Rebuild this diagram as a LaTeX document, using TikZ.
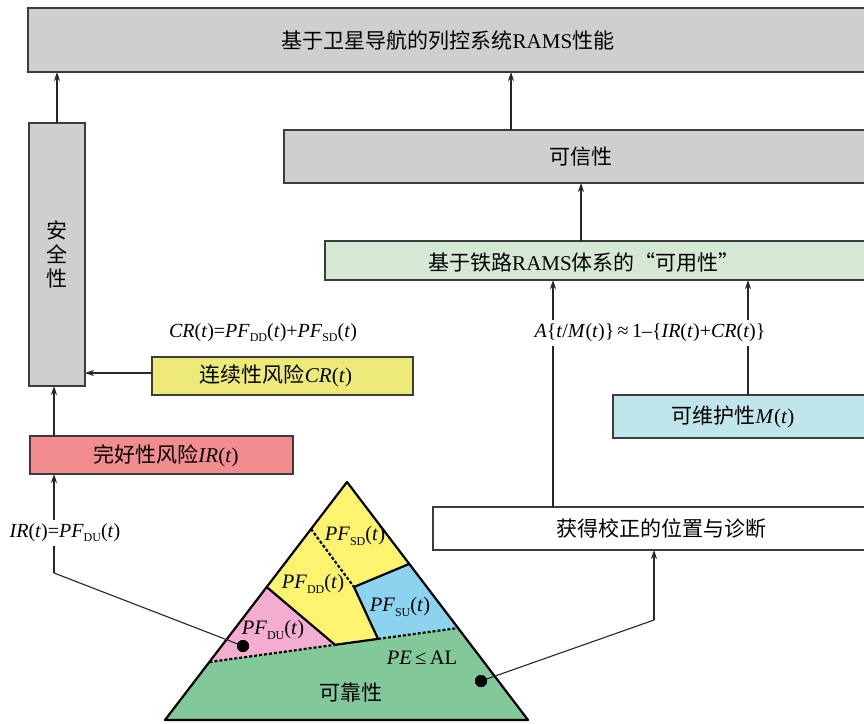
\documentclass[tikz,border=0pt]{standalone}
\usepackage{fontspec}
\setmainfont{Liberation Serif}
\newfontfamily\cjk{Noto Sans CJK SC}
\usetikzlibrary{arrows.meta}
\definecolor{boxgray}{HTML}{CFCFD1}
\definecolor{boxyel}{HTML}{EEEA78}
\definecolor{boxpink}{HTML}{F28C8F}
\definecolor{boxgreen}{HTML}{D5E8D3}
\definecolor{boxblue}{HTML}{C0E5EA}
\definecolor{tyel}{HTML}{FCF46E}
\definecolor{tpink}{HTML}{F2ADD0}
\definecolor{tblue}{HTML}{8CD3F0}
\definecolor{tgreen}{HTML}{82C899}
\definecolor{bordc}{HTML}{3C3C3C}
\newcommand{\sbs}[1]{\raisebox{-0.45ex}{\fontsize{12}{12}\selectfont #1}}
\newcommand{\pfx}[1]{\textit{PF}\sbs{#1}(\textit{t})}
\newcommand{\myt}{\textit{t}}
\tikzset{
  rbox/.style={draw=bordc, line width=1.3pt, inner sep=0pt, outer sep=0pt, anchor=north west},
  txt/.style={inner sep=2pt, font=\fontsize{21}{24}\selectfont},
  ptxt/.style={inner sep=2pt, font=\fontsize{20.5}{24}\selectfont},
  ftxt/.style={fill=white, inner sep=4pt, font=\fontsize{20}{24}\selectfont},
  arr/.style={draw=black!85, line width=1.1pt, -{Stealth[length=9pt,width=6pt]}},
  ln/.style={draw=black!85, line width=1.1pt},
  tri/.style={draw=black, line width=2.2pt, line join=round},
  dot/.style={dash pattern=on 3pt off 2pt, line width=2.2pt},
  bdot/.style={circle, fill=black, inner sep=0pt, minimum size=12pt}
}
\begin{document}
\begin{tikzpicture}[x=1pt,y=-1pt]
\useasboundingbox (0,0) rectangle (864,723);
% boxes
\node[rbox, fill=boxgray, minimum width=850pt, minimum height=64pt] (top) at (28,8) {};
\node[rbox, fill=boxgray, minimum width=600pt, minimum height=53pt] (kexin) at (284,130) {};
\node[rbox, fill=boxgray, minimum width=56pt, minimum height=263pt] (anquan) at (29,123) {};
\node[rbox, fill=boxgreen, minimum width=560pt, minimum height=39pt] (kyx) at (325,241) {};
\node[rbox, fill=boxblue, minimum width=260pt, minimum height=43pt] (weihu) at (613,395) {};
\node[rbox, fill=white, minimum width=440pt, minimum height=43pt] (huode) at (433,507) {};
\node[rbox, fill=boxyel, minimum width=261pt, minimum height=38pt] (lianxu) at (152,357) {};
\node[rbox, fill=boxpink, minimum width=263pt, minimum height=38pt] (wanhao) at (30,436) {};
% box texts
\node[txt] (ttop) at (448,40) {{\cjk 基于卫星导航的列控系统}RAMS{\cjk 性能}};
\node[txt] (tkexin) at (581,157) {{\cjk 可信性}};
\node[txt, align=center] (tanquan) at (57,254) {{\cjk 安}\\[0pt]{\cjk 全}\\[0pt]{\cjk 性}};
\node[txt] (tkyx) at (584,262) {{\cjk 基于铁路}RAMS{\cjk 体系的“可用性”}};
\node[txt] (tweihu) at (733,417) {{\cjk 可维护性}\textit{M}(\myt)};
\node[txt] (thuode) at (661,528) {{\cjk 获得校正的位置与诊断}};
\node[txt] (tlianxu) at (276,376) {{\cjk 连续性风险}\textit{CR}(\myt)};
\node[txt] (twanhao) at (166,456) {{\cjk 完好性风险}\textit{IR}(\myt)};
% triangle
\coordinate (A) at (347,482);
\coordinate (BL) at (165,720);
\coordinate (BR) at (528,720);
\coordinate (L1) at (209.5,662);
\coordinate (R1) at (458,628);
\coordinate (L2) at (266.7,587);
\coordinate (M1) at (335,644.8);
\coordinate (M2) at (378,638.9);
\coordinate (M3) at (354,587);
\coordinate (R2) at (409,564);
\coordinate (D1) at (311,529);
\fill[tgreen] (L1) -- (R1) -- (BR) -- (BL) -- cycle;
\fill[tpink] (L2) -- (M1) -- (L1) -- cycle;
\fill[tyel] (A) -- (L2) -- (M1) -- (M2) -- (M3) -- (R2) -- cycle;
\fill[tblue] (M3) -- (R2) -- (R1) -- (M2) -- cycle;
\draw[tri] (L2) -- (M1) -- (M2) -- (M3) -- (R2);
\draw[dot] (L1) -- (M1);
\draw[dot] (M2) -- (R1);
\draw[dot] (D1) -- (M3);
\draw[tri] (A) -- (BL) -- (BR) -- cycle;
\node[ptxt] (pfsd) at (355,536) {\pfx{SD}};
\node[ptxt] (pfdd) at (313,584) {\pfx{DD}};
\node[ptxt] (pfsu) at (400,607) {\pfx{SU}};
\node[ptxt] (pfdu) at (273,630) {\pfx{DU}};
\node[ptxt] (peal) at (422,658) {\textit{PE}\,≤\,AL};
\node[txt] (kekao) at (351,693) {{\cjk 可靠性}};
\node[bdot] (dl) at (243,646) {};
\node[bdot] (dr) at (481,681) {};
% connectors
\coordinate (k1) at (511,130);
\coordinate (k2) at (581,241);
\coordinate (a1) at (553,507);
\coordinate (a2) at (748,395);
\coordinate (w1) at (54,436);
\coordinate (bl1) at (54,573);
\coordinate (br1) at (654,620);
\coordinate (cy) at (0,373);
\draw[arr] (anquan.north) -- (anquan.north |- top.south);
\draw[arr] (k1) -- (k1 |- top.south);
\draw[arr] (k2) -- (k2 |- kexin.south);
\draw[arr] (a1) -- (a1 |- kyx.south);
\draw[arr] (a2) -- (a2 |- kyx.south);
\draw[arr] (lianxu.west |- cy) -- (anquan.east |- cy);
\draw[arr] (w1) -- (w1 |- anquan.south);
\draw[ln] (dl.center) -- (bl1);
\draw[arr] (bl1) -- (bl1 |- wanhao.south);
\draw[ln] (dr.center) -- (br1);
\draw[arr] (br1) -- (br1 |- huode.south);
\node[bdot] (dl2) at (dl) {};
\node[bdot] (dr2) at (dr) {};
% formulas
\node[ftxt] (af) at (650,333) {\textit{A}\{\myt/\textit{M}(\myt)\}\,≈\,1–\{\textit{IR}(\myt)+\textit{CR}(\myt)\}};
\node[ftxt] (irf) at (65,533) {\textit{IR}(\myt)=\pfx{DU}};
\node[ftxt, fill=none] (crf) at (263,333) {\textit{CR}(\myt)=\pfx{DD}+\pfx{SD}};
\end{tikzpicture}
\end{document}
